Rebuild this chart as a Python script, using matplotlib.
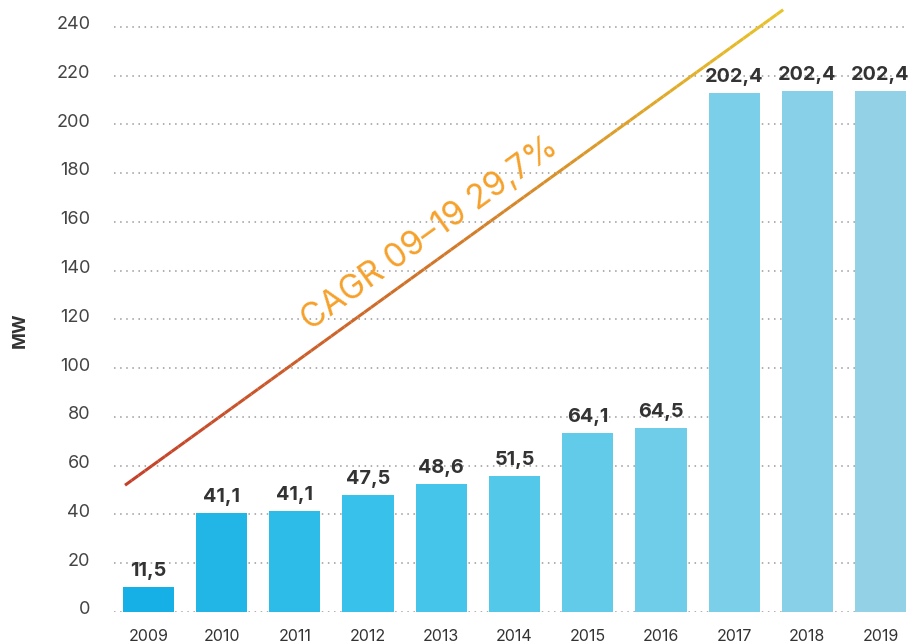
import matplotlib
matplotlib.use("Agg")
import matplotlib.pyplot as plt
import matplotlib.colors as mcolors
import matplotlib.transforms as mtransforms
from matplotlib.collections import LineCollection
import numpy as np

# ── Data ──────────────────────────────────────────────────────────────────────
years      = ["2009", "2010", "2011", "2012", "2013", "2014",
              "2015", "2016", "2017", "2018", "2019"]
bar_height = [10.3, 40.6, 41.4, 48.0, 52.5, 55.8, 73.4, 75.5, 213.0, 213.8, 213.8]
bar_labels = ["11,5", "41,1", "41,1", "47,5", "48,6", "51,5",
              "64,1", "64,5", "202,4", "202,4", "202,4"]
y_ticks    = [0, 20, 40, 60, 80, 100, 120, 140, 160, 180, 200, 220, 240]
trend_x    = [-0.32, 8.67]
trend_y    = [52.0, 247.0]
cagr_text  = "CAGR 09–19 29,7%"

plt.rcParams["font.family"] = ["Inter", "DejaVu Sans"]

fig = plt.figure(figsize=(9.08, 6.43), dpi=100)
ax = fig.add_axes([0.1256, 0.0482, 0.8744, 0.9518])

x = np.arange(len(years))
bar_cmap = mcolors.LinearSegmentedColormap.from_list(
    "bars", ["#17b0e6", "#3cc3ea", "#6bcde9", "#92d1e6"])
colours = [bar_cmap(i / (len(years) - 1)) for i in range(len(years))]
ax.bar(x, bar_height, width=0.7, color=colours, zorder=3)

for xi, h, lab in zip(x, bar_height, bar_labels):
    ax.annotate(lab, (xi, h), xytext=(0, 5), textcoords="offset points",
                ha="center", va="bottom", fontsize=14.3, fontweight="bold",
                color="#333333", zorder=4)

# gradient trend line
tx = np.linspace(trend_x[0], trend_x[1], 100)
ty = np.linspace(trend_y[0], trend_y[1], 100)
pts = np.column_stack([tx, ty]).reshape(-1, 1, 2)
segs = np.concatenate([pts[:-1], pts[1:]], axis=1)
line_cmap = mcolors.LinearSegmentedColormap.from_list(
    "trend", ["#c4402b", "#d27a2a", "#e8c32a"])
lc = LineCollection(segs, colors=line_cmap(np.linspace(0, 1, len(segs))),
                    linewidth=2.2, zorder=5, capstyle="butt")
ax.add_collection(lc)

ax.text(3.84, 155, cagr_text, rotation=35.8, rotation_mode="anchor",
        ha="center", va="center", fontsize=24, fontweight="normal",
        color="#f5a12b", zorder=6)

ax.set_xlim(-0.47, 10.375)
ax.set_ylim(0, 251)
ax.set_yticks(y_ticks)
ax.set_xticks(x)
ax.set_xticklabels(years)
ax.tick_params(axis="y", length=0, pad=17, labelsize=13, labelcolor="#444444")
ax.tick_params(axis="x", length=0, pad=12, labelsize=11.5, labelcolor="#333333")
shift_up = mtransforms.ScaledTranslation(0, 3 / 72, fig.dpi_scale_trans)
for lab in ax.get_yticklabels():
    lab.set_transform(lab.get_transform() + shift_up)
ax.grid(axis="y", linestyle=(0, (1, 3)), color="#9a9a9a", linewidth=1.1, zorder=0)
ax.set_axisbelow(True)
for sp in ax.spines.values():
    sp.set_visible(False)
ax.set_ylabel("MW", fontsize=13, fontweight="bold", color="#333333")
ax.yaxis.set_label_coords(-0.108, 0.46)

fig.savefig("out.png", dpi=100)
